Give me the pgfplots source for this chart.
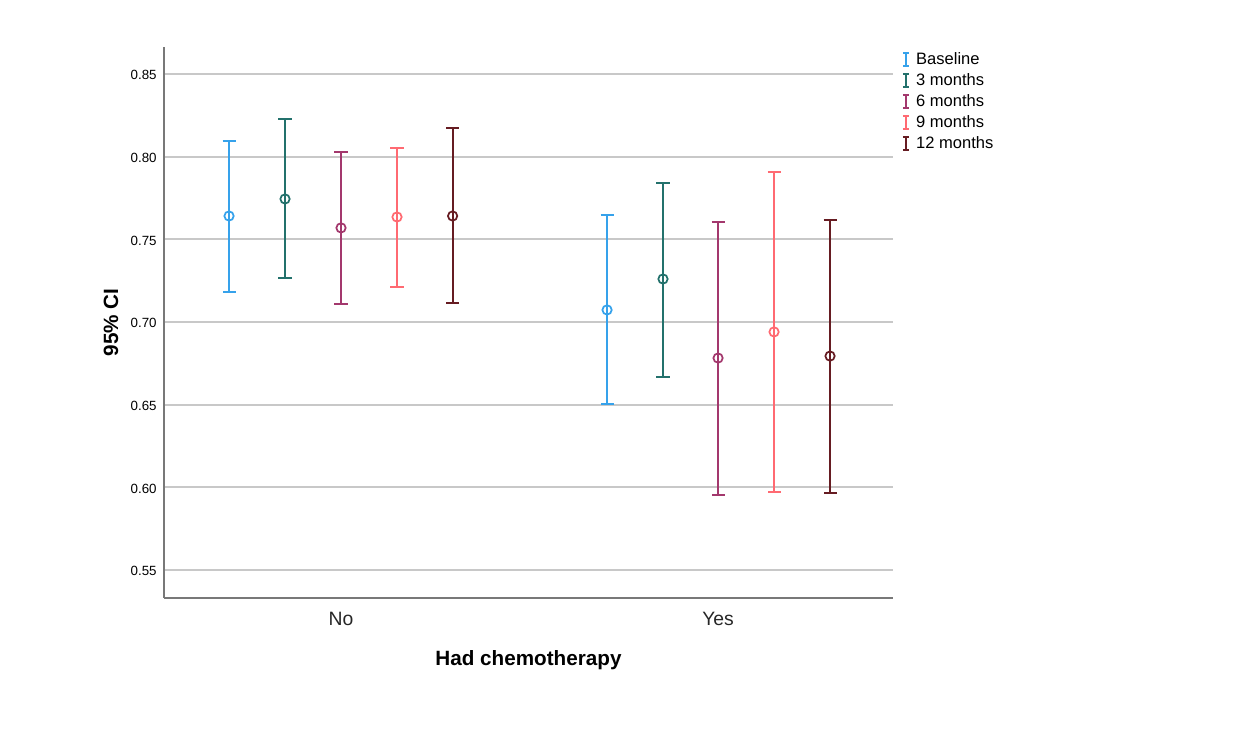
\documentclass[border=0pt]{standalone}
\usepackage{pgfplots}
\pgfplotsset{compat=1.18}
\usepackage{pgfplotstable}
\usepackage{fontspec}
\setmainfont{Liberation Sans}
\definecolor{cBase}{HTML}{36A2EB}
\definecolor{cThree}{HTML}{23716C}
\definecolor{cSix}{HTML}{A3386D}
\definecolor{cNine}{HTML}{FF6A72}
\definecolor{cTwelve}{HTML}{661C22}
\definecolor{gridc}{RGB}{200,200,200}
\definecolor{axisc}{RGB}{120,120,120}

% x: No = 1, Yes = 2; series offset 0.1485
\pgfplotstableread{
x      y      hi     lo
0.703  0.7641 0.8095 0.7182
1.7056 0.7073 0.7647 0.6504
}\baseline
\pgfplotstableread{
x      y      hi     lo
0.8515 0.7744 0.8228 0.7266
1.854  0.7260 0.7841 0.6667
}\three
\pgfplotstableread{
x      y      hi     lo
1.0    0.7569 0.8028 0.7109
2.0    0.6782 0.7605 0.5954
}\six
\pgfplotstableread{
x      y      hi     lo
1.1485 0.7635 0.8052 0.7212
2.1485 0.6940 0.7907 0.5972
}\nine
\pgfplotstableread{
x      y      hi     lo
1.296  0.7641 0.8173 0.7115
2.297  0.6794 0.7617 0.5966
}\twelve

\pgfplotsset{
  cibar/.style={
    color=#1, line width=1.5pt, only marks,
    mark=o, mark size=3.5pt, mark options={solid, line width=1.3pt, draw=#1, fill=none},
    error bars/.cd, y dir=both, y explicit,
    error bar style={line width=1.5pt, color=#1},
    error mark=|,
    error mark options={rotate=0, line width=1.5pt, mark size=4.9pt, color=#1},
  },
}

\begin{document}
\begin{tikzpicture}
\path[use as bounding box] (0,0) rectangle (930pt,547.5pt);
\begin{axis}[
  at={(123pt,99pt)}, anchor=south west,
  scale only axis, width=546.75pt, height=413.25pt,
  xmin=0.5305, xmax=2.464, ymin=0.5331, ymax=0.8663,
  axis x line*=bottom, axis y line*=left,
  axis line style={axisc, line width=1.4pt, -},
  xtick={1,2}, xticklabels={No,Yes},
  ytick={0.55,0.60,...,0.86},
  major tick length=0pt,
  ymajorgrids, grid style={gridc, line width=1.4pt},
  yticklabel style={/pgf/number format/fixed, /pgf/number format/fixed zerofill, /pgf/number format/precision=2, /pgf/number format/assume math mode=true},
  yticklabel style={font=\fontsize{10pt}{12pt}\selectfont, anchor=east, xshift=-2pt, yshift=-1pt},
  xticklabel style={font=\fontsize{14.5pt}{17pt}\selectfont, anchor=base, yshift=-21pt, text=black!85},
  xlabel={Had chemotherapy},
  ylabel={95\% CI},
  xlabel style={font=\bfseries\fontsize{15.5pt}{18pt}\selectfont, at={(axis description cs:0.5,-0.1234)}, anchor=base},
  ylabel style={font=\bfseries\fontsize{15.5pt}{18pt}\selectfont, at={(axis description cs:-0.0631,0.5)}, anchor=base},
  legend style={at={(axis description cs:1,1)}, anchor=north west, xshift=6.5pt, yshift=-3.6pt,
    draw=none, fill=none, inner sep=0pt, row sep=4.25pt, column sep=0pt,
    font=\fontsize{12.4pt}{14pt}\selectfont,
    nodes={inner sep=0pt, text height=9pt, text depth=2.5pt}},
  legend cell align=left,
  legend image code/.code={
    \draw[#1, line width=1.4pt] (2.25pt,-4.9pt) -- (2.25pt,4.9pt)
      (0pt,-4.9pt) -- (4.5pt,-4.9pt) (0pt,4.9pt) -- (4.5pt,4.9pt);
    \path[draw=none, fill=none] (0pt,-4.9pt) rectangle (10pt,4.9pt);
  },
  clip=false,
]
\addplot+[cibar=cBase] table[x=x, y=y, y error plus expr=\thisrow{hi}-\thisrow{y}, y error minus expr=\thisrow{y}-\thisrow{lo}] {\baseline};
\addlegendentry{Baseline}
\addplot+[cibar=cThree] table[x=x, y=y, y error plus expr=\thisrow{hi}-\thisrow{y}, y error minus expr=\thisrow{y}-\thisrow{lo}] {\three};
\addlegendentry{3 months}
\addplot+[cibar=cSix] table[x=x, y=y, y error plus expr=\thisrow{hi}-\thisrow{y}, y error minus expr=\thisrow{y}-\thisrow{lo}] {\six};
\addlegendentry{6 months}
\addplot+[cibar=cNine] table[x=x, y=y, y error plus expr=\thisrow{hi}-\thisrow{y}, y error minus expr=\thisrow{y}-\thisrow{lo}] {\nine};
\addlegendentry{9 months}
\addplot+[cibar=cTwelve] table[x=x, y=y, y error plus expr=\thisrow{hi}-\thisrow{y}, y error minus expr=\thisrow{y}-\thisrow{lo}] {\twelve};
\addlegendentry{12 months}
\end{axis}
\end{tikzpicture}
\end{document}
